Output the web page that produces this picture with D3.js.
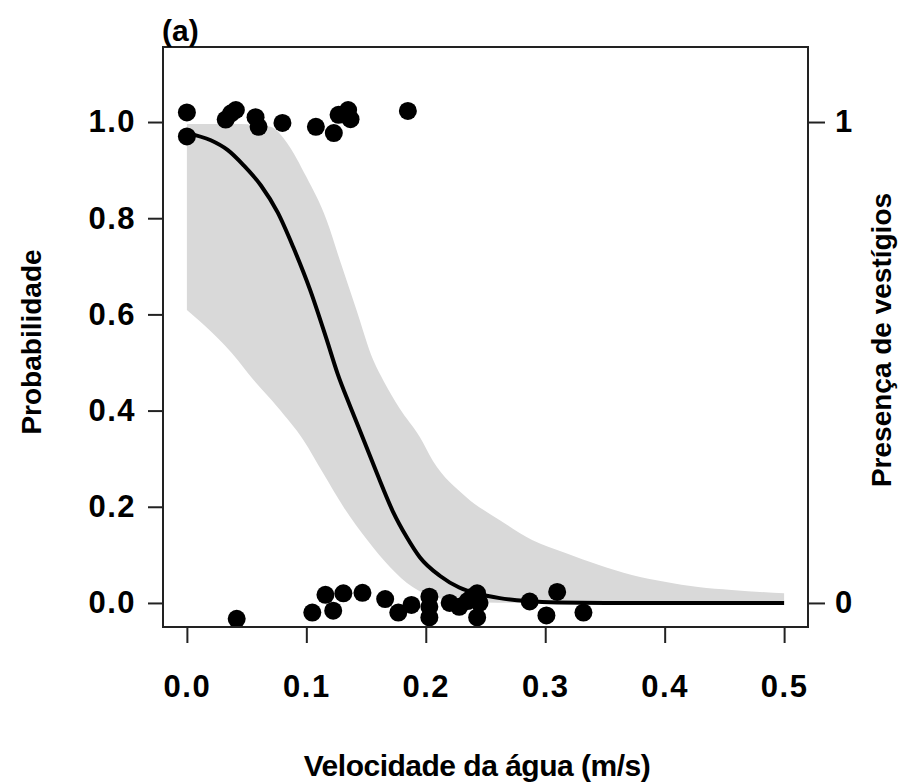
<!DOCTYPE html>
<html>
<head>
<meta charset="utf-8">
<script src="https://cdn.jsdelivr.net/npm/d3@7"></script>
<style>
  body { margin: 0; background: #fff; }
  svg text { font-family: "Liberation Sans", Arial, sans-serif; fill: #000; }
</style>
</head>
<body>
<div id="container"></div>
<script>
// fitted curve
const curveX = [0, 0.02, 0.034, 0.0475, 0.062, 0.076, 0.089, 0.103, 0.117, 0.126, 0.137, 0.148, 0.159, 0.1725, 0.184, 0.195, 0.212, 0.228, 0.245, 0.262, 0.285, 0.31, 0.35, 0.4, 0.45, 0.5];
const curveY = [0.977, 0.962, 0.942, 0.91, 0.868, 0.812, 0.74, 0.652, 0.548, 0.478, 0.407, 0.339, 0.27, 0.19, 0.137, 0.095, 0.056, 0.032, 0.018, 0.01, 0.004, 0.001, 0, 0, 0, 0];

// confidence band
const bandX = [0, 0.02, 0.045, 0.07, 0.084, 0.1, 0.117, 0.128, 0.142, 0.156, 0.165, 0.178, 0.195, 0.206, 0.234, 0.262, 0.289, 0.317, 0.345, 0.3725, 0.4, 0.428, 0.456, 0.5];
const bandUpper = [0.996, 0.996, 0.996, 0.99, 0.956, 0.886, 0.796, 0.713, 0.609, 0.505, 0.46, 0.405, 0.345, 0.295, 0.22, 0.172, 0.131, 0.104, 0.079, 0.058, 0.044, 0.033, 0.027, 0.02];
const lowerX = [0, 0.0425, 0.051, 0.076, 0.0975, 0.114, 0.131, 0.151, 0.17, 0.189, 0.2, 0.22, 0.25, 0.3, 0.5];
const bandLower = [0.609, 0.505, 0.478, 0.407, 0.339, 0.27, 0.2, 0.131, 0.075, 0.033, 0.018, 0.006, 0.001, 0, 0];

// observations (presence jittered near 1, absence near 0)
const obsX = [0, 0, 0.0325, 0.037, 0.041, 0.0575, 0.06, 0.08, 0.108, 0.123, 0.127, 0.135, 0.137, 0.185,
  0.0417, 0.105, 0.116, 0.1225, 0.131, 0.147, 0.166, 0.177, 0.188, 0.203, 0.203, 0.203, 0.22, 0.228, 0.235, 0.239, 0.243, 0.243, 0.245, 0.287, 0.301, 0.31, 0.332];
const obsY = [1.02, 0.97, 1.005, 1.018, 1.025, 1.01, 0.99, 0.998, 0.99, 0.977, 1.015, 1.025, 1.006, 1.023,
  -0.033, -0.02, 0.017, -0.016, 0.02, 0.021, 0.008, -0.02, -0.004, 0.013, -0.03, -0.008, 0.0, -0.008, 0.004, 0.013, 0.02, -0.03, 0.0, 0.003, -0.026, 0.023, -0.02];

const xTicks = [0, 0.1, 0.2, 0.3, 0.4, 0.5];
const yTicks = [0, 0.2, 0.4, 0.6, 0.8, 1.0];
const rightTicks = [0, 1];

const width = 906, height = 784;
const margin = { top: 47, right: 98, bottom: 157, left: 163 };

const svg = d3.select("#container").append("svg")
  .attr("width", width)
  .attr("height", height);

const x = d3.scaleLinear()
  .domain([-0.02, 0.52])
  .range([margin.left, width - margin.right]);

const y = d3.scaleLinear()
  .domain([-0.05, 1.156])
  .range([height - margin.bottom, margin.top]);

// band: smooth upper edge, then lower edge back
const smooth = d3.line().curve(d3.curveMonotoneX).x(d => x(d[0])).y(d => y(d[1]));
const upperPath = smooth(bandX.map((v, i) => [v, bandUpper[i]]));
const lowerPath = smooth(lowerX.map((v, i) => [v, bandLower[i]]).reverse());
svg.append("path")
  .attr("fill", "#d9d9d9")
  .attr("d", upperPath + "L" + lowerPath.slice(1) + "Z");

// curve
svg.append("path")
  .datum(curveX.map((v, i) => [v, curveY[i]]))
  .attr("fill", "none")
  .attr("stroke", "#000")
  .attr("stroke-width", 4)
  .attr("d", smooth);

// points
svg.append("g")
  .selectAll("circle")
  .data(obsX.map((v, i) => [v, obsY[i]]))
  .join("circle")
  .attr("cx", d => x(d[0]))
  .attr("cy", d => y(d[1]))
  .attr("r", 9)
  .attr("fill", "#000");

// box
svg.append("rect")
  .attr("x", margin.left)
  .attr("y", margin.top)
  .attr("width", width - margin.left - margin.right)
  .attr("height", height - margin.top - margin.bottom)
  .attr("fill", "none")
  .attr("stroke", "#222")
  .attr("stroke-width", 2);

const tickFont = g => g.selectAll("text")
  .style("font-size", "31px")
  .style("font-weight", "bold")
  .style("letter-spacing", "1.5px");

// bottom axis
svg.append("g")
  .attr("transform", `translate(0,${height - margin.bottom})`)
  .call(d3.axisBottom(x).tickValues(xTicks).tickFormat(d3.format(".1f")).tickSize(16).tickPadding(32))
  .call(g => g.select(".domain").remove())
  .call(g => g.selectAll("line").attr("stroke", "#222").attr("stroke-width", 2))
  .call(tickFont);

// left axis
svg.append("g")
  .attr("transform", `translate(${margin.left},0)`)
  .call(d3.axisLeft(y).tickValues(yTicks).tickFormat(d3.format(".1f")).tickSize(15).tickPadding(12))
  .call(g => g.select(".domain").remove())
  .call(g => g.selectAll("line").attr("stroke", "#222").attr("stroke-width", 2))
  .call(tickFont);

// right axis
svg.append("g")
  .attr("transform", `translate(${width - margin.right},0)`)
  .call(d3.axisRight(y).tickValues(rightTicks).tickFormat(d3.format("d")).tickSize(17).tickPadding(10))
  .call(g => g.select(".domain").remove())
  .call(g => g.selectAll("line").attr("stroke", "#222").attr("stroke-width", 2))
  .call(tickFont);

// axis titles
svg.append("text")
  .attr("x", 477)
  .attr("y", 776)
  .attr("text-anchor", "middle")
  .style("font-size", "30px")
  .style("font-weight", "bold")
  .style("letter-spacing", "-0.5px")
  .text("Velocidade da água (m/s)");

svg.append("text")
  .attr("transform", `translate(41, 342) rotate(-90)`)
  .attr("text-anchor", "middle")
  .style("font-size", "28px")
  .style("font-weight", "bold")
  .text("Probabilidade");

svg.append("text")
  .attr("transform", `translate(891, 340) rotate(-90)`)
  .attr("text-anchor", "middle")
  .style("font-size", "28px")
  .style("font-weight", "bold")
  .text("Presença de vestígios");

svg.append("text")
  .attr("x", 162)
  .attr("y", 41)
  .style("font-size", "30px")
  .style("font-weight", "bold")
  .text("(a)");
</script>
</body>
</html>
